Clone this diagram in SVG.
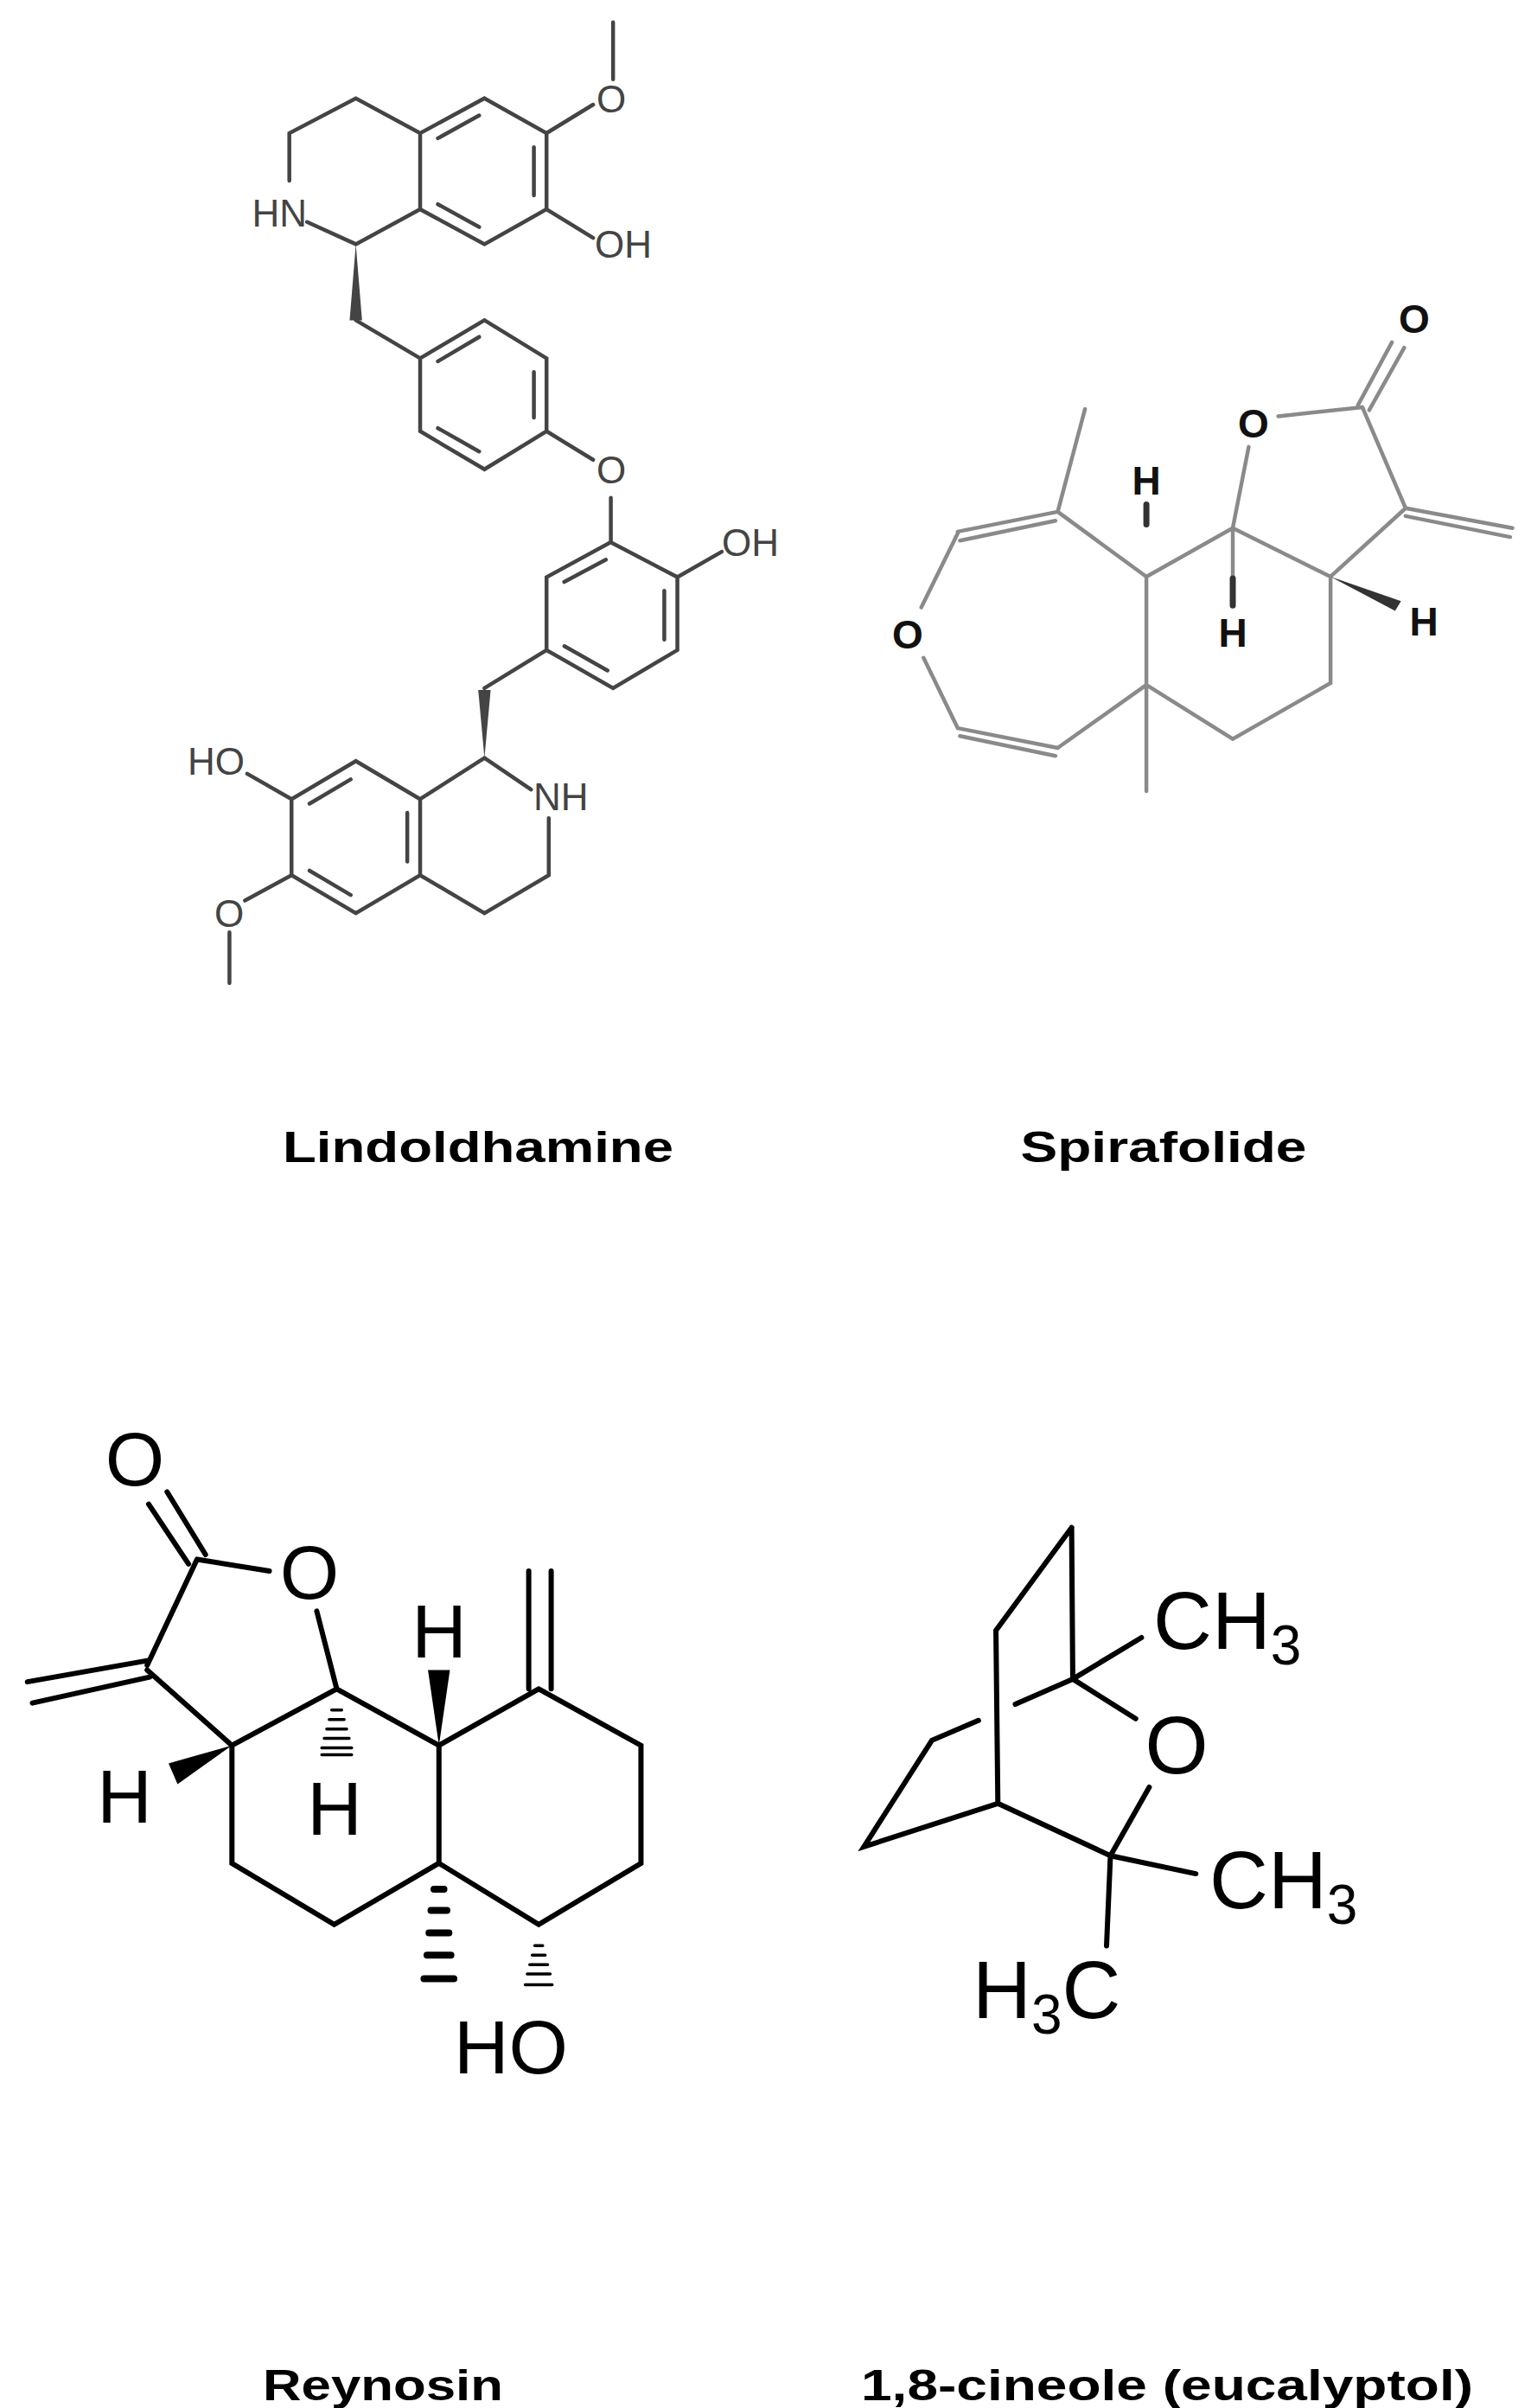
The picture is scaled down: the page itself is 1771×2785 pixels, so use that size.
<svg xmlns="http://www.w3.org/2000/svg" width="1771" height="2785" viewBox="0 0 1771 2785">
<style>
.b{fill:none;stroke-linecap:round;vector-effect:non-scaling-stroke}
.lin{stroke:#444;stroke-width:4.5}
.spi{stroke:#8a8a8a;stroke-width:4.5}
.rey{stroke:#000;stroke-width:6}
.cin{stroke:#000;stroke-width:6}
.tl{font-family:"Liberation Sans",Arial,sans-serif;font-size:44px;fill:#444}
.ts{font-family:"Liberation Sans",Arial,sans-serif;font-size:46px;font-weight:bold;fill:#111;text-anchor:middle}
.tr{font-family:"Liberation Sans",Arial,sans-serif;font-size:88px;fill:#000;text-anchor:middle}
.tc{font-family:"Liberation Sans",Arial,sans-serif;font-size:94px;fill:#000}
.title{font-family:"Liberation Sans",Arial,sans-serif;font-size:50px;font-weight:bold;fill:#000;text-anchor:middle}
</style>
<rect width="1771" height="2785" fill="#fff"/>
<g id="lindoldhamine">
<g transform="translate(150,0) scale(0.513,0.7335)">
<path class="b lin" d="M800,155 L940,210 L940,330 L800,385 L655,330 L655,210 Z M695,218 L788,182 M911.5,232 L911.5,308 M788,358 L695,322 M655,210 L510,155 L360,210 L360,285 M400,350 L510,385 L655,330 M940,210 L1045,165 M1090,125 L1090,35 M940,330 L1045,375 M510,505 L655,565 M655,565 L800,505 L940,565 L940,680 L800,740 L655,680 Z M695,569.7 L788,531.3 M911.5,586.5 L911.5,658.5 M788,711.9 L695,675.1 M940,680 L1045,725 M1085,785 L1085,855 M1085,855 L1235,910 L1235,1025 L1090,1085 L940,1025 L940,910 Z M979.8,917.6 L1073.8,882.4 M1205.5,931.6 L1205.5,1008.4 M1077.4,1057.2 L980.2,1018.8 M1235,910 L1335,870 M940,1025 L800,1085 M800,1195 L905,1245 M945,1290 L945,1380 L800,1440 L655,1380 M800,1195 L655,1260 M655,1260 L510,1200 L365,1260 L365,1380 L510,1440 L655,1380 Z M405.6,1267.2 L498.4,1228.8 M626,1281.6 L626,1358.4 M405.6,1372.8 L498.4,1411.2 M365,1260 L265,1220 M365,1380 L260,1420 M225,1470 L225,1550"/>
<polygon points="510,385 496,505 524,505" fill="#444"/>
<polygon points="800,1195 786,1088 814,1088" fill="#444"/>
</g>
<text class="tl" x="707" y="130" text-anchor="middle">O</text>
<text class="tl" x="688" y="298">OH</text>
<text class="tl" x="707" y="559" text-anchor="middle">O</text>
<text class="tl" x="355" y="262" text-anchor="end">HN</text>
<text class="tl" x="835" y="643">OH</text>
<text class="tl" x="617" y="937">NH</text>
<text class="tl" x="283" y="896" text-anchor="end">HO</text>
<text class="tl" x="265" y="1072" text-anchor="middle">O</text>
</g>
<g id="spirafolide">
<g transform="translate(950,300) scale(0.526,0.417)">
<path class="b spi" d="M580,415 L520,700 M300,755 L520,700 M305,780 L515,725 M300,760 L220,965 M225,1105 L300,1300 M300,1300 L520,1355 M305,1322 L515,1377 M520,1355 L715,1180 M715,1180 L715,880 M520,700 L715,880 M715,880 L905,745 M905,745 L940,520 M1005,435 L1190,410 M1180,405 L1255,230 M1205,418 L1282,245 M1190,410 L1285,690 M1285,690 L1520,745 M1285,712 L1515,770 M1285,690 L1120,880 M905,745 L1120,880 M905,745 L905,880 M1120,880 L1120,1175 L905,1330 L715,1180 M715,1180 L715,1475"/>
<path class="b" d="M715,680 L715,735 M905,885 L905,960" stroke="#333" stroke-width="7"/>
<polygon points="1120,880 1275,948 1262,975" fill="#333"/>
</g>
<text class="ts" x="1326" y="572">H</text>
<text class="ts" x="1426" y="748">H</text>
<text class="ts" x="1647" y="735">H</text>
<text class="ts" x="1050" y="750">O</text>
<text class="ts" x="1450" y="506">O</text>
<text class="ts" x="1636" y="385">O</text>
</g>
<g id="reynosin">
<g transform="translate(0,1550) scale(0.577,0.545)">
<path class="b rey" d="M298,348 L378,475 M335,322 L412,455 M395,465 L540,490 M395,465 L295,690 M295,680 L55,725 M300,715 L65,770 M295,700 L465,860 M635,575 L675,740 M675,740 L465,860 M675,740 L880,860 M880,860 L1080,740 M1060,490 L1060,740 M1105,490 L1105,740 M1080,740 L1285,860 L1285,1110 L1080,1240 L880,1110 L880,860 M880,1110 L670,1240 L465,1110 L465,860"/>
<polygon points="880,860 858,700 902,700" fill="#000"/>
<polygon points="465,860 338,898 356,942" fill="#000"/>
<path class="b" stroke="#000" stroke-width="3.5" d="M665,785 L685,785 M660,805 L690,805 M655,825 L695,825 M650,845 L700,845 M645,865 L705,865 M645,880 L705,880"/>
<path class="b" stroke="#000" stroke-width="8" d="M870,1165 L890,1165 M864,1210 L896,1210 M860,1258 L900,1258 M856,1305 L904,1305 M850,1355 L910,1355"/>
<path class="b" stroke="#000" stroke-width="3.5" d="M1072,1285 L1088,1285 M1067,1305 L1093,1305 M1062,1325 L1098,1325 M1057,1345 L1103,1345 M1053,1368 L1107,1368"/>
</g>
<text class="tr" x="156" y="1718">O</text>
<text class="tr" x="358" y="1849">O</text>
<text class="tr" x="508" y="1917">H</text>
<text class="tr" x="387" y="2122">H</text>
<text class="tr" x="144" y="2108">H</text>
<text class="tr" x="591" y="2398">HO</text>
</g>
<g id="cineole">
<g transform="translate(950,1650) scale(0.449,0.417)">
<path class="b cin" d="M645,280 L450,565 L455,1045 L110,1165 L285,870 L405,815 M645,280 L648,700 M648,700 L825,585 M648,700 L500,770 M648,700 L810,810 M845,1000 L745,1190 M455,1045 L745,1190 M745,1190 L965,1240 M745,1190 L735,1440"/>
</g>
<text class="tc" x="1334" y="1907">CH<tspan font-size="64" dy="18">3</tspan></text>
<text class="tc" x="1361" y="2051" text-anchor="middle">O</text>
<text class="tc" x="1399" y="2207">CH<tspan font-size="64" dy="18">3</tspan></text>
<text class="tc" x="1125" y="2334">H<tspan font-size="64" dy="18">3</tspan><tspan dy="-18">C</tspan></text>
</g>
<g id="titles">
<text class="title" x="553" y="1344" textLength="452" lengthAdjust="spacingAndGlyphs">Lindoldhamine</text>
<text class="title" x="1346" y="1344" textLength="331" lengthAdjust="spacingAndGlyphs">Spirafolide</text>
<text class="title" x="443" y="2776" textLength="278" lengthAdjust="spacingAndGlyphs">Reynosin</text>
<text class="title" x="1350" y="2776" textLength="708" lengthAdjust="spacingAndGlyphs">1,8-cineole (eucalyptol)</text>
</g>
</svg>
